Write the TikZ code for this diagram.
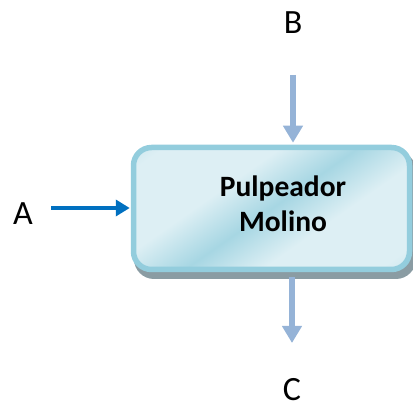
\documentclass[tikz,border=0pt]{standalone}
\usepackage{fontspec}
\setmainfont{Carlito}
\usetikzlibrary{arrows.meta}
\definecolor{boxedge}{HTML}{93CDDD}
\definecolor{boxlight}{HTML}{DDEFF4}
\definecolor{boxdark}{HTML}{9DD2E0}
\definecolor{inflow}{HTML}{0070C0}
\definecolor{sideflow}{HTML}{95B3D7}
\definecolor{shadowgray}{HTML}{8A9CA3}
\pgfdeclarehorizontalshading{boxshade}{100bp}{
  color(0bp)=(boxdark); color(20bp)=(boxlight); color(38bp)=(boxlight);
  color(50bp)=(boxdark!85!boxlight); color(62bp)=(boxlight); color(80bp)=(boxlight);
  color(100bp)=(boxdark)}
\tikzset{
  unit/.style={draw=boxedge, line width=5.5pt, rounded corners=18pt,
    shading=boxshade, shading angle=125,
    minimum width=276pt, minimum height=122pt, inner sep=0pt},
  label/.style={font=\fontsize{34}{34}\selectfont, text=black, inner sep=0pt},
  mainflow/.style={draw=inflow, line width=4.5pt, -{Triangle[length=14pt,width=16pt]}},
  auxflow/.style={draw=sideflow, line width=6pt, -{Triangle[length=17pt,width=19pt]}}
}
\begin{document}
\begin{tikzpicture}[x=1pt,y=1pt]
  \useasboundingbox (0,0) rectangle (413,407);
  % drop shadow under the unit
  \fill[shadowgray, rounded corners=20pt] (134,128) rectangle (416,256);
  % process unit
  \node[unit] (mill) at (271.5,198.5) {};
  \node[font=\bfseries\fontsize{29.5}{35}\selectfont, align=center] (name) at (283,203) {Pulpeador\\Molino};
  % stream labels
  \node[label] (A) at (23,193) {A};
  \node[label] (B) at (293,384) {B};
  \node[label] (C) at (292,17) {C};
  % stream arrows
  \coordinate (aStart) at (51,199);
  \coordinate (bStart) at (293,332);
  \coordinate (cEnd) at (292,64);
  \draw[mainflow] (aStart) -- ([xshift=-1pt]mill.west |- aStart);
  \draw[auxflow] (bStart) -- ([yshift=2pt]mill.north -| bStart);
  \draw[auxflow] ([yshift=-5pt]mill.south -| cEnd) -- (cEnd);
\end{tikzpicture}
\end{document}
